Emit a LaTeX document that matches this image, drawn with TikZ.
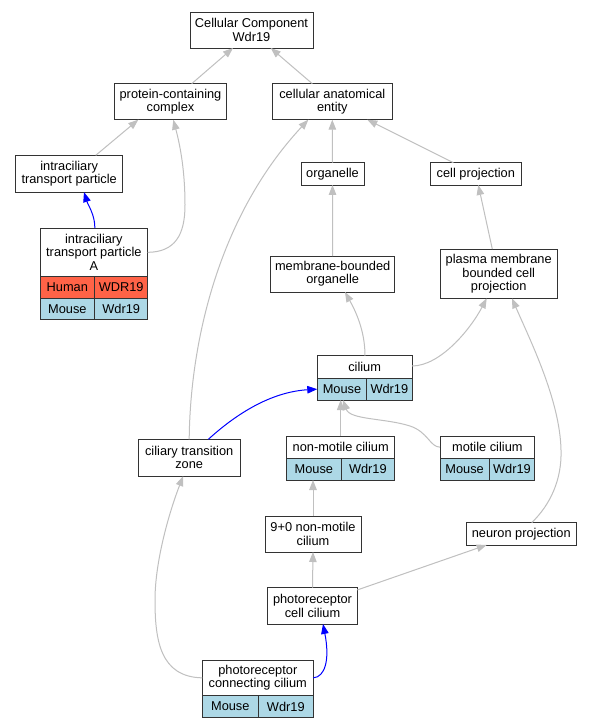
\documentclass[tikz,border=0pt]{standalone}
\usepackage{fontspec}
\setmainfont{Liberation Sans}
\usetikzlibrary{arrows.meta}

\definecolor{mouseblue}{HTML}{ADD8E6}
\definecolor{humanred}{HTML}{FF6347}
\definecolor{isagray}{HTML}{C0C0C0}
\newcommand{\gofont}{\fontsize{12.8}{13.3}\selectfont}

\tikzset{
  term/.style={draw=black!80, line width=0.9pt, fill=white, align=center, inner sep=0pt, outer sep=0pt, font=\gofont},
  cell/.style={term, anchor=north west, minimum height=21.6},
  mouse/.style={cell, fill=mouseblue},
  human/.style={cell, fill=humanred},
  isa/.style={draw=isagray, line width=1pt, -{Triangle[length=10pt,width=7.5pt]}},
  partof/.style={draw=blue, line width=1pt, -{Triangle[length=10pt,width=7.5pt]}}
}

\begin{document}
\begin{tikzpicture}[x=1pt,y=-1pt]
\path[use as bounding box, fill=white] (0,0) rectangle (592,728);

\node[term, minimum width=123,   minimum height=36]   (cc)         at (251.5,30)    {Cellular Component\\Wdr19};
\node[term, minimum width=112.4, minimum height=36]   (pcomplex)   at (170.5,101.7) {protein-containing\\complex};
\node[term, minimum width=119.3, minimum height=36]   (cae)        at (332.3,101.7) {cellular anatomical\\entity};
\node[term, minimum width=107,   minimum height=36.7] (itp)        at (69.2,173.7)  {intraciliary\\transport particle};
\node[term, minimum width=63,    minimum height=22.3] (organelle)  at (332.5,173.8) {organelle};
\node[term, minimum width=91,    minimum height=22.3] (cellproj)   at (475.8,173.8) {cell projection};
\node[term, minimum width=107.7, minimum height=48.7] (itpa)       at (93.85,252.35) {intraciliary\\transport particle\\A};
\node[human, minimum width=54.7] (itpaHuman)     at (itpa.south west)      {Human};
\node[human, minimum width=53]   (itpaHumanGene) at (itpaHuman.north east) {WDR19};
\node[mouse, minimum width=54.7] (itpaMouse)     at (itpaHuman.south west) {Mouse};
\node[mouse, minimum width=53]   (itpaMouseGene) at (itpaMouse.north east) {Wdr19};
\node[term, minimum width=124,   minimum height=36]   (mbo)        at (332.7,274)   {membrane-bounded\\organelle};
\node[term, minimum width=117.3, minimum height=49.3] (pmbcp)      at (498.7,273.7) {plasma membrane\\bounded cell\\projection};
\node[term, minimum width=94.7,  minimum height=22.6] (cilium)     at (364.65,367)  {cilium};
\node[mouse, minimum width=49.4, minimum height=21.7] (ciliumMouse) at (cilium.south west)     {Mouse};
\node[mouse, minimum width=45.3, minimum height=21.7] (ciliumGene)  at (ciliumMouse.north east) {Wdr19};
\node[term, minimum width=101.7, minimum height=36.7] (ctz)        at (189.2,457.7) {ciliary transition\\zone};
\node[term, minimum width=108,   minimum height=22.3] (nmc)        at (340.7,447.15) {non-motile cilium};
\node[mouse, minimum width=54.3, minimum height=21.7] (nmcMouse)   at (nmc.south west)      {Mouse};
\node[mouse, minimum width=53.7, minimum height=21.7] (nmcGene)    at (nmcMouse.north east) {Wdr19};
\node[term, minimum width=94.7,  minimum height=22.3] (mc)         at (487.35,447.15) {motile cilium};
\node[mouse, minimum width=49.3, minimum height=21.7] (mcMouse)    at (mc.south west)      {Mouse};
\node[mouse, minimum width=45.4, minimum height=21.7] (mcGene)     at (mcMouse.north east) {Wdr19};
\node[term, minimum width=96,    minimum height=36]   (ninezero)   at (313,534)     {9+0 non-motile\\cilium};
\node[term, minimum width=109.3, minimum height=22.3] (neuronproj) at (521.3,533.8) {neuron projection};
\node[term, minimum width=89.6,  minimum height=36.3] (prcc)       at (312.5,605.8) {photoreceptor\\cell cilium};
\node[term, minimum width=111,   minimum height=35.7] (pcon)       at (257.8,677.85) {photoreceptor\\connecting cilium};
\node[mouse, minimum width=56] (pconMouse) at (pcon.south west)      {Mouse};
\node[mouse, minimum width=55] (pconGene)  at (pconMouse.north east) {Wdr19};

% is_a
\draw[isa] ([xshift=21.2pt]pcomplex.north) -- ([xshift=-18.5pt]cc.south);
\draw[isa] ([xshift=-20pt]cae.north) -- ([xshift=19.2pt]cc.south);
\draw[isa] ([xshift=26.5pt]itp.north) -- ([xshift=-32.2pt]pcomplex.south);
\draw[isa] (itpa.east) .. controls (175,252) and (185,235) .. (185,205)
  .. controls (185,170) and (180,145) .. ([xshift=2.8pt]pcomplex.south);
\draw[isa] (organelle.north) -- (cae.south);
\draw[isa] ([xshift=-22.5pt]cellproj.north) -- ([xshift=35pt]cae.south);
\draw[isa] (ctz.north) .. controls (190,350) and (215,220) .. ([xshift=-24pt]cae.south);
\draw[isa] (mbo.north) -- (organelle.south);
\draw[isa] ([xshift=-6.4pt]pmbcp.north) -- ([xshift=2.5pt]cellproj.south);
\draw[isa] ([xshift=0.35pt]cilium.north) .. controls (365,330) and (355,310) .. ([xshift=12.3pt]mbo.south);
\draw[isa] ([shift={(0,-1)}]cilium.east) .. controls (440,366) and (470,330) .. ([xshift=-12pt]pmbcp.south);
\draw[isa] ([xshift=10.4pt]neuronproj.north) .. controls (550,505) and (562,480) .. (561,450)
  .. controls (560,400) and (530,340) .. ([xshift=13.3pt]pmbcp.south);
\draw[isa] (nmc.north) -- (nmc.north |- ciliumMouse.south);
\draw[isa] (mc.west) .. controls (430,447) and (428,432) .. (410,426)
  .. controls (385,418) and (350,420) .. ([xshift=1pt]ciliumMouse.south);
\draw[isa] (ninezero.north) -- (ninezero.north |- nmcMouse.south);
\draw[isa] (prcc.north) -- (ninezero.south);
\draw[isa] ([shift={(0,2.3)}]prcc.north east) -- ([xshift=-34.6pt]neuronproj.south);
\draw[isa] (pcon.west) .. controls (160,677) and (155,640) .. (155,600)
  .. controls (155,560) and (170,510) .. ([xshift=-6pt]ctz.south);

% part_of
\draw[partof] ([xshift=1pt]itpa.north) .. controls (95,215) and (88,205) .. ([xshift=14.8pt]itp.south);
\draw[partof] ([xshift=19.1pt]ctz.north) .. controls (235,415) and (270,392) .. (ciliumMouse.west);
\draw[partof] (pcon.east) .. controls (325,677) and (330,660) .. ([xshift=10.5pt]prcc.south);
\end{tikzpicture}
\end{document}
